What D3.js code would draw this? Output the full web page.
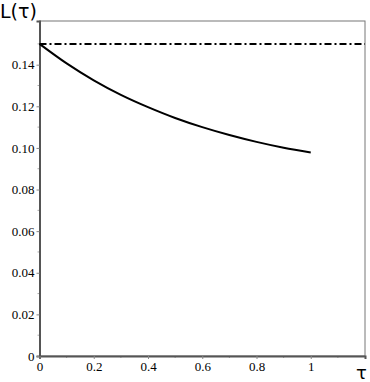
<!DOCTYPE html>
<html>
<head>
<meta charset="utf-8">
<script src="https://cdn.jsdelivr.net/npm/d3@7"></script>
<style>
  body { margin: 0; background: #fff; }
  svg .tick text { font-family: "Liberation Serif", "DejaVu Serif", serif !important; }
</style>
</head>
<body>
<div id="chart"></div>
<script>
//chart values
const tau = [0, 0.1, 0.2, 0.3, 0.4, 0.5, 0.6, 0.7, 0.8, 0.9, 1.0];
const L = [0.1500, 0.1406, 0.1325, 0.1255, 0.1196, 0.1144, 0.1100, 0.1062, 0.1029, 0.1001, 0.0978];
const levelValue = 0.15;
const xTicks = [0, 0.2, 0.4, 0.6, 0.8, 1];
const yTicks = [0, 0.02, 0.04, 0.06, 0.08, 0.10, 0.12, 0.14];
const xMinor = [0.1, 0.3, 0.5, 0.7, 0.9, 1.1];
const yMinor = [0.01, 0.03, 0.05, 0.07, 0.09, 0.11, 0.13, 0.15];

const width = 370;
const height = 382;
const margin = { top: 21, right: 5, bottom: 26, left: 39.5 };

const svg = d3.select("#chart")
  .append("svg")
  .attr("width", width)
  .attr("height", height);

const x = d3.scaleLinear().domain([0, 1.2]).range([margin.left, width - margin.right]);
const y = d3.scaleLinear().domain([0, 0.161]).range([height - margin.bottom, margin.top]);

//frame
svg.append("rect")
  .attr("x", x(0)).attr("y", y(0.161))
  .attr("width", x(1.2) - x(0)).attr("height", y(0) - y(0.161))
  .attr("fill", "none").attr("stroke", "#777").attr("stroke-width", 1);

//minor ticks
svg.append("g").selectAll("line").data(yMinor).enter().append("line")
  .attr("x1", x(0) - 2).attr("x2", x(0))
  .attr("y1", d => y(d)).attr("y2", d => y(d))
  .attr("stroke", "#aaa");
svg.append("g").selectAll("line").data(xMinor).enter().append("line")
  .attr("y1", y(0)).attr("y2", y(0) + 2)
  .attr("x1", d => x(d)).attr("x2", d => x(d))
  .attr("stroke", "#aaa");

//axes
const yAxis = svg.append("g")
  .attr("transform", `translate(${x(0)},0)`)
  .call(d3.axisLeft(y).tickValues(yTicks).tickSize(3).tickPadding(2)
    .tickFormat(d => d === 0 ? "0" : d3.format(".2f")(d)));
yAxis.select(".domain").attr("stroke", "#555").attr("stroke-width", 2);
yAxis.selectAll(".tick line").attr("stroke", "#888");

const xAxis = svg.append("g")
  .attr("transform", `translate(0,${y(0)})`)
  .call(d3.axisBottom(x).tickValues(xTicks).tickSize(3).tickPadding(3)
    .tickFormat(d => d === 0 ? "0" : (d === 1 ? "1" : d3.format(".1f")(d))));
xAxis.select(".domain").attr("stroke", "#555").attr("stroke-width", 2);
xAxis.selectAll(".tick line").attr("stroke", "#888");

//serif tick labels
yAxis.attr("font-family", "Liberation Serif").attr("font-size", 13);
xAxis.attr("font-family", "Liberation Serif").attr("font-size", 13);
svg.selectAll(".tick text").attr("fill", "#000");

//dash-dot level line
svg.append("line")
  .attr("x1", x(0)).attr("x2", x(1.2))
  .attr("y1", y(levelValue)).attr("y2", y(levelValue))
  .attr("stroke", "#000").attr("stroke-width", 2)
  .attr("stroke-dasharray", "7,3,2,3");

//curve
const line = d3.line()
  .x((d, i) => x(tau[i]))
  .y(d => y(d))
  .curve(d3.curveNatural);

svg.append("path")
  .datum(L)
  .attr("d", line)
  .attr("fill", "none")
  .attr("stroke", "#000")
  .attr("stroke-width", 2);

//axis labels
svg.append("text")
  .attr("x", 0).attr("y", 18)
  .attr("font-family", "DejaVu Sans, sans-serif")
  .attr("font-size", 19)
  .text("L(τ)");

svg.append("text")
  .attr("x", 356).attr("y", 379)
  .attr("font-family", "DejaVu Sans, sans-serif")
  .attr("font-size", 18)
  .text("τ");
</script>
</body>
</html>
